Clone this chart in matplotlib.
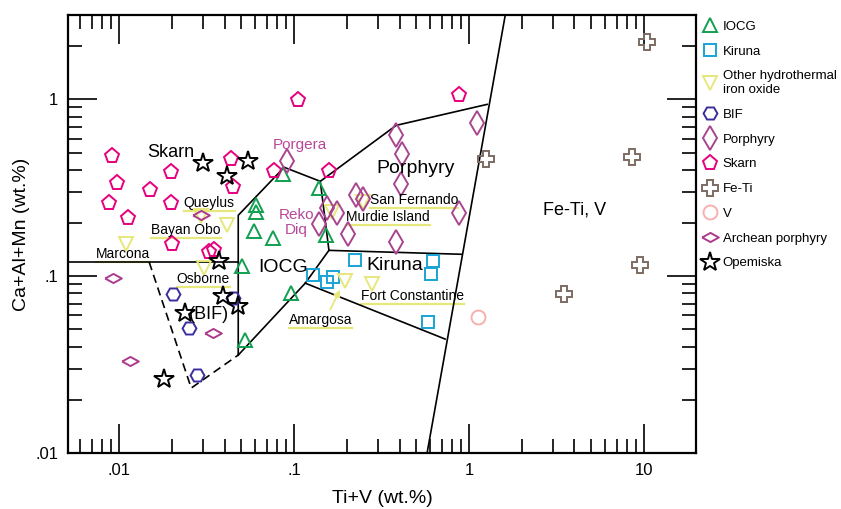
import matplotlib
matplotlib.use("Agg")
import matplotlib.pyplot as plt

plt.rcParams['font.family'] = ['Liberation Sans', 'DejaVu Sans']

# point data (Ti+V, Ca+Al+Mn in wt.%)
iocg_x = [0.0865, 0.139, 0.0607, 0.0607, 0.059, 0.0759, 0.152, 0.0505, 0.0962, 0.0525]
iocg_y = [0.377, 0.314, 0.252, 0.230, 0.180, 0.164, 0.171, 0.114, 0.0802, 0.0435]

kiruna_x = [0.1285, 0.167, 0.154, 0.223, 0.623, 0.607, 0.583]
kiruna_y = [0.1013, 0.0987, 0.0925, 0.123, 0.1216, 0.1027, 0.055]

other_x = [0.0110, 0.0294, 0.0414, 0.0306, 0.196, 0.279, 0.248, 0.165]
other_y = [0.153, 0.218, 0.194, 0.111, 0.0937, 0.0902, 0.262, 0.230]

bif_x = [0.0204, 0.0448, 0.0251, 0.0279]
bif_y = [0.0791, 0.0751, 0.0508, 0.0276]

porph_x = [0.0912, 0.383, 0.414, 0.409, 0.226, 0.248, 0.154, 0.176, 0.139, 0.204, 0.383, 0.877, 1.111]
porph_y = [0.447, 0.626, 0.489, 0.331, 0.287, 0.272, 0.242, 0.227, 0.197, 0.173, 0.156, 0.227, 0.731]

skarn_x = [0.105, 0.00912, 0.00974, 0.00877, 0.01504, 0.0198, 0.0437, 0.0448, 0.0198,
           0.0769, 0.01126, 0.0201, 0.0327, 0.0349, 0.158, 0.877]
skarn_y = [0.987, 0.476, 0.335, 0.258, 0.306, 0.387, 0.458, 0.318, 0.258,
           0.392, 0.213, 0.153, 0.137, 0.140, 0.392, 1.054]

feti_x = [10.4, 1.25, 8.53, 9.49, 3.49]
feti_y = [2.10, 0.458, 0.470, 0.115, 0.0791]

v_x = [1.125]
v_y = [0.0587]

arch_x = [0.00924, 0.0344, 0.01155, 0.0294]
arch_y = [0.0974, 0.0476, 0.0331, 0.221]

opem_x = [0.0302, 0.0546, 0.0414, 0.0373, 0.0393, 0.0479, 0.0238, 0.0181]
opem_y = [0.435, 0.447, 0.367, 0.1216, 0.0771, 0.0677, 0.0618, 0.0262]

# field boundaries
b_main_x = [1.607, 0.575]
b_main_y = [2.98, 0.01]
b_top_x = [0.0479, 0.0479, 0.0877, 0.141, 0.383, 1.268]
b_top_y = [0.0358, 0.221, 0.413, 0.344, 0.713, 0.937]
b_mid_x = [0.141, 0.158, 0.912]
b_mid_y = [0.344, 0.140, 0.133]
b_diag_x = [0.0479, 0.1157, 0.158]
b_diag_y = [0.0358, 0.0913, 0.140]
b_low_x = [0.1157, 0.729]
b_low_y = [0.0913, 0.0441]
b_horiz_x = [0.005, 0.0479]
b_horiz_y = [0.120, 0.120]
b_dash_x = [0.01484, 0.0258, 0.0479]
b_dash_y = [0.120, 0.0233, 0.0358]

fig = plt.figure(figsize=(8.41, 5.09), dpi=100)
ax = fig.add_axes([0.0809, 0.110, 0.7467, 0.8605])
ax.set_xscale('log')
ax.set_yscale('log')
ax.set_xlim(0.0051, 19.8)
ax.set_ylim(0.01, 3.0)

lw = 1.2
ax.plot(b_main_x, b_main_y, 'k-', lw=lw)
ax.plot(b_top_x, b_top_y, 'k-', lw=lw)
ax.plot(b_mid_x, b_mid_y, 'k-', lw=lw)
ax.plot(b_diag_x, b_diag_y, 'k-', lw=lw)
ax.plot(b_low_x, b_low_y, 'k-', lw=lw)
ax.plot(b_horiz_x, b_horiz_y, 'k-', lw=lw)
ax.plot(b_dash_x, b_dash_y, 'k--', lw=lw, dashes=(5, 3))

mk = dict(ls='none', mfc='none', mew=1.4)
hdiamond = [(-1, 0), (0, 0.55), (1, 0), (0, -0.55), (-1, 0)]
ax.plot(iocg_x, iocg_y, marker='^', ms=10, mec='#10a050', label='IOCG', **mk)
ax.plot(kiruna_x, kiruna_y, marker='s', ms=9, mec='#1aa3d6', label='Kiruna', **mk)
ax.plot(other_x, other_y, marker='v', ms=10, mec='#e6e87c',
        label='Other hydrothermal\niron oxide', **mk)
ax.plot(bif_x, bif_y, marker='H', ms=10, mec='#3a2e9e', label='BIF', **mk)
ax.plot(porph_x, porph_y, marker='d', ms=12, mec='#a8458f', label='Porphyry', **mk)
ax.plot(skarn_x, skarn_y, marker='p', ms=11, mec='#e6007e', label='Skarn', **mk)
ax.plot(feti_x, feti_y, marker='P', ms=12, mec='#7d6b63', label='Fe-Ti', **mk)
ax.plot(v_x, v_y, marker='o', ms=10, mec='#f7b0ae', label='V', **mk)
ax.plot(arch_x, arch_y, marker=hdiamond, ms=12, mec='#ad3b8c', label='Archean porphyry', **mk)
ax.plot(opem_x, opem_y, marker='*', ms=15, mec='black', label='Opemiska', **mk)

# field names
big = 14
ax.text(0.0198, 0.502, 'Skarn', fontsize=13, ha='center', va='center')
ax.text(0.491, 0.407, 'Porphyry', fontsize=big, ha='center', va='center')
ax.text(0.0865, 0.1125, 'IOCG', fontsize=big, ha='center', va='center')
ax.text(0.378, 0.115, 'Kiruna', fontsize=big, ha='center', va='center')
ax.text(3.98, 0.236, 'Fe-Ti, V', fontsize=13, ha='center', va='center')
ax.text(0.0327, 0.061, '(BIF)', fontsize=13, ha='center', va='center')
ax.text(0.108, 0.550, 'Porgera', fontsize=11, color='#b8479a', ha='center', va='center')
ax.text(0.1026, 0.202, 'Reko\nDiq', fontsize=11, color='#b8479a', ha='center', va='center',
        linespacing=1.1)

# deposit names with yellow underline
deposits = [('Queylus', 0.0327, 0.258), ('Bayan Obo', 0.0241, 0.182),
            ('Marcona', 0.0105, 0.133), ('Osborne', 0.0302, 0.096),
            ('Amargosa', 0.141, 0.0564), ('Fort Constantine', 0.472, 0.0771),
            ('Murdie Island', 0.344, 0.215), ('San Fernando', 0.485, 0.269)]
dep_texts = []
for name, x, y in deposits:
    dep_texts.append(ax.text(x, y, name, fontsize=10, ha='center', va='center'))

ax.annotate('', xy=(0.186, 0.0866), xytext=(0.158, 0.0626),
            arrowprops=dict(arrowstyle='-|>', color='#e6e87c', lw=1.3, mutation_scale=10))

ax.tick_params(which='both', direction='in', top=True, right=True, width=1.2)
ax.tick_params(which='major', length=21, labelsize=12, pad=7)
ax.tick_params(which='minor', length=10)
ax.set_xticks([0.01, 0.1, 1, 10])
ax.set_xticklabels(['.01', '.1', '1', '10'])
ax.set_yticks([0.01, 0.1, 1])
ax.set_yticklabels(['.01', '.1', '1'])
for s in ax.spines.values():
    s.set_linewidth(1.6)

ax.set_xlabel('Ti+V (wt.%)', fontsize=14, labelpad=9)
ax.set_ylabel('Ca+Al+Mn (wt.%)', fontsize=14, labelpad=4)

ax.legend(loc='upper left', bbox_to_anchor=(1.008, 0.993), frameon=False, fontsize=9.5,
          handlelength=1.0, handletextpad=0.45, labelspacing=0.95, borderaxespad=0.0,
          borderpad=0.2, numpoints=1)

fig.canvas.draw()
inv = ax.transData.inverted()
for t in dep_texts:
    bb = t.get_window_extent()
    (x0, y0), (x1, _) = inv.transform([(bb.x0, bb.y0 - 1), (bb.x1, bb.y0 - 1)])
    ax.plot([x0, x1], [y0, y0], color='#e6e87c', lw=1.6, zorder=1)

fig.savefig('out.png', dpi=100)
